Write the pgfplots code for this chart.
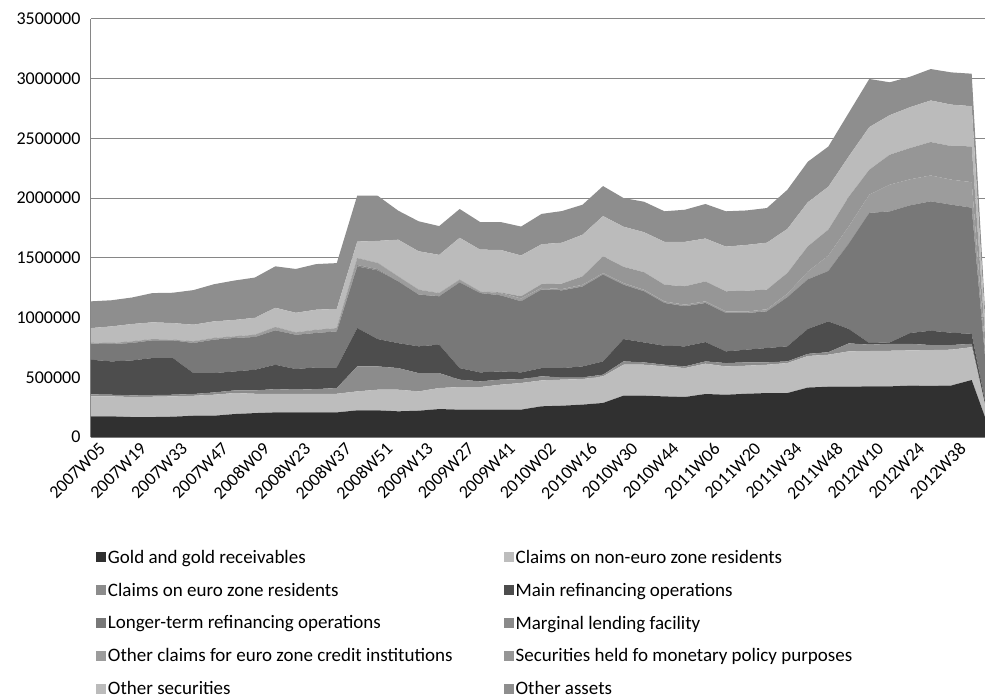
\documentclass[border=0pt]{standalone}
\usepackage{fontspec}
\setmainfont{Carlito}
\usepackage{pgfplots}
\usepackage{pgfplotstable}
\pgfplotsset{compat=1.18}

\definecolor{cGold}{HTML}{303030}
\definecolor{cNonEuro}{HTML}{BDBDBD}
\definecolor{cEuroRes}{HTML}{8C8C8C}
\definecolor{cMRO}{HTML}{4D4D4D}
\definecolor{cLTRO}{HTML}{787878}
\definecolor{cMLF}{HTML}{8A8A8A}
\definecolor{cOthCl}{HTML}{9C9C9C}
\definecolor{cSMP}{HTML}{969696}
\definecolor{cOSec}{HTML}{BBBBBB}
\definecolor{cOAss}{HTML}{8E8E8E}
\definecolor{gridgray}{HTML}{868686}

% one row every 7 weeks, 2007W05 ... 2012W52
\pgfplotstableread{
c gold noneuro eurores mro ltro mlf oth smp osec oass
0 173000 167000 17000 290000 134000 1000 10000 0 120000 224000
1 173000 167000 14000 279000 145000 1000 8000 0 139000 219000
2 167000 168000 14000 292000 146000 1000 13000 0 145000 222000
3 167000 170000 14000 310000 148000 1000 10000 0 140000 245000
4 170000 170000 14000 307000 148000 1000 5000 0 139000 254000
5 178000 167000 15000 175000 252000 1000 13000 0 139000 290000
6 178000 176000 19000 162000 280000 1000 13000 0 139000 311000
7 192000 176000 22000 159000 280000 1000 13000 0 137000 330000
8 200000 162000 28000 173000 274000 1000 18000 0 142000 337000
9 206000 156000 39000 204000 288000 1000 27000 0 161000 347000
10 206000 156000 34000 173000 287000 1000 19000 0 164000 367000
11 206000 156000 39000 182000 288000 1000 26000 0 168000 382000
12 206000 156000 48000 173000 301000 1000 27000 0 160000 384000
13 223000 159000 209000 321000 516000 12000 58000 0 138000 386000
14 223000 173000 195000 229000 575000 10000 52000 0 185000 378000
15 215000 181000 181000 209000 517000 2000 39000 0 308000 243000
16 220000 162000 153000 224000 433000 2000 39000 0 322000 251000
17 234000 176000 125000 238000 405000 2000 25000 0 320000 241000
18 229000 189000 62000 97000 717000 1000 22000 0 351000 241000
19 229000 189000 48000 75000 664000 1000 13000 0 350000 231000
20 229000 209000 42000 69000 637000 1000 18000 6000 355000 234000
21 229000 223000 33000 56000 595000 1000 23000 18000 342000 242000
22 257000 217000 34000 69000 658000 1000 14000 30000 334000 254000
23 262000 218000 19000 78000 651000 1000 10000 46000 342000 265000
24 271000 214000 14000 92000 669000 1000 14000 70000 349000 251000
25 285000 223000 14000 111000 727000 1000 12000 140000 337000 251000
26 346000 259000 28000 187000 455000 1000 13000 136000 336000 240000
27 346000 259000 20000 167000 428000 1000 12000 147000 335000 255000
28 340000 251000 14000 159000 358000 1000 12000 140000 359000 256000
29 335000 242000 14000 168000 336000 1000 12000 154000 372000 269000
30 360000 254000 19000 162000 327000 1000 13000 167000 359000 289000
31 354000 237000 28000 98000 321000 1000 13000 168000 374000 296000
32 362000 235000 28000 106000 307000 1000 11000 175000 383000 289000
33 368000 237000 20000 120000 307000 1000 17000 164000 393000 290000
34 368000 251000 14000 126000 411000 1000 29000 173000 369000 328000
35 414000 264000 18000 209000 415000 1000 64000 212000 369000 339000
36 421000 268000 21000 258000 422000 1000 129000 216000 359000 337000
37 421000 296000 67000 121000 715000 1000 143000 248000 338000 365000
38 424000 296000 53000 14000 1089000 1000 152000 209000 357000 403000
39 424000 298000 58000 12000 1097000 1000 223000 251000 331000 275000
40 430000 295000 55000 91000 1069000 1000 217000 262000 342000 255000
41 428000 300000 42000 120000 1083000 1000 216000 280000 348000 263000
42 431000 300000 39000 103000 1072000 1000 209000 281000 347000 270000
43 477000 275000 28000 84000 1056000 1000 213000 300000 336000 272000
44 0 0 0 0 0 0 0 0 0 0
}\data

\begin{document}
\begin{tikzpicture}
\begin{axis}[
  at={(0,0)}, anchor=south west,
  scale only axis,
  width=894bp, height=418bp,
  xmin=0, xmax=43.65,
  ymin=0, ymax=3500000,
  stack plots=y,
  axis lines*=left,
  axis line style={gridgray, line width=1bp},
  ymajorgrids,
  grid style={gridgray, line width=1bp},
  major tick length=0pt,
  ytick={0,500000,...,3500000},
  scaled y ticks=false,
  yticklabel style={/pgf/number format/fixed, /pgf/number format/1000 sep={}, xshift=-7bp},
  xtick={0,2,...,42},
  xticklabels={2007W05,2007W19,2007W33,2007W47,2008W09,2008W23,2008W37,2008W51,
    2009W13,2009W27,2009W41,2010W02,2010W16,2010W30,2010W44,2011W06,2011W20,
    2011W34,2011W48,2012W10,2012W24,2012W38},
  x tick label style={rotate=45, anchor=north east, inner sep=0pt, xshift=2bp, yshift=-8bp},
  tick label style={font=\fontsize{18bp}{20bp}\selectfont},
  /pgf/number format/assume math mode=true,
  legend columns=2,
  legend cell align=left,
  legend image code/.code={\fill[#1] (0bp,-5bp) rectangle (10bp,5bp);},
  legend style={at={(0.002,-0.26)}, anchor=north west, draw=none, fill=none,
    font=\fontsize{19bp}{21bp}\selectfont, row sep=14.3bp,
    /tikz/every even column/.append style={column sep=49bp}},
]
\addplot[fill=cGold, draw=none] table[x=c, y=gold] {\data} \closedcycle;
\addplot[fill=cNonEuro, draw=none] table[x=c, y=noneuro] {\data} \closedcycle;
\addplot[fill=cEuroRes, draw=none] table[x=c, y=eurores] {\data} \closedcycle;
\addplot[fill=cMRO, draw=none] table[x=c, y=mro] {\data} \closedcycle;
\addplot[fill=cLTRO, draw=none] table[x=c, y=ltro] {\data} \closedcycle;
\addplot[fill=cMLF, draw=none] table[x=c, y=mlf] {\data} \closedcycle;
\addplot[fill=cOthCl, draw=none] table[x=c, y=oth] {\data} \closedcycle;
\addplot[fill=cSMP, draw=none] table[x=c, y=smp] {\data} \closedcycle;
\addplot[fill=cOSec, draw=none] table[x=c, y=osec] {\data} \closedcycle;
\addplot[fill=cOAss, draw=none] table[x=c, y=oass] {\data} \closedcycle;
\legend{Gold and gold receivables, Claims on non-euro zone residents,
  Claims on euro zone residents, Main refinancing operations,
  Longer-term refinancing operations, Marginal lending facility,
  Other claims for euro zone credit institutions, Securities held fo monetary policy purposes,
  Other securities, Other assets}
\end{axis}
\pgfresetboundingbox
\path[use as bounding box] (-91bp,-262bp) rectangle (894bp,437bp);
\end{tikzpicture}
\end{document}
